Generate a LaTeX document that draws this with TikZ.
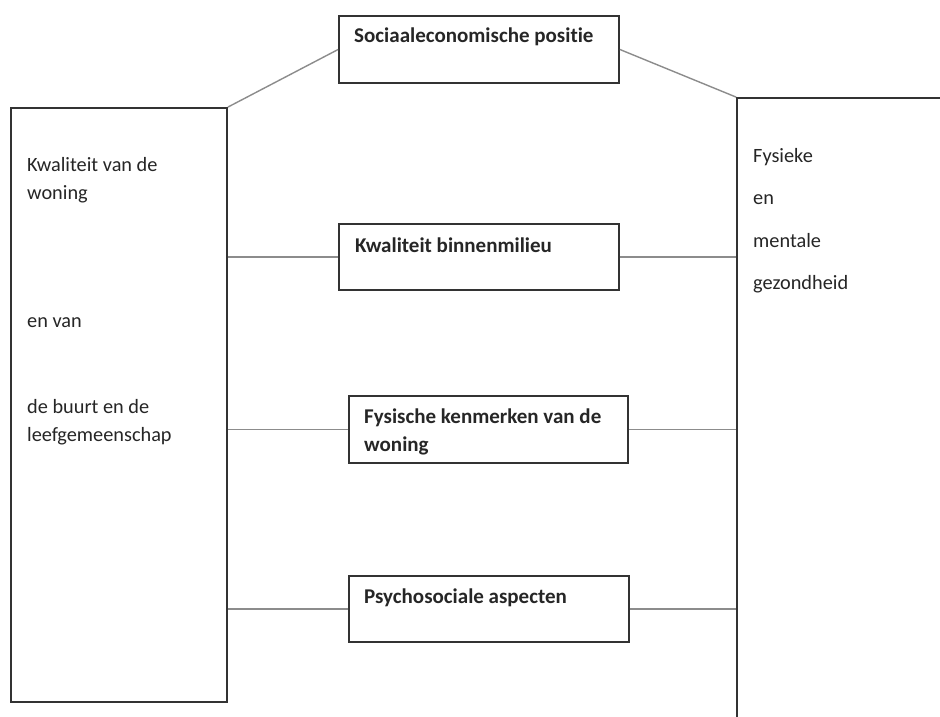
\documentclass[tikz,border=0pt]{standalone}
\usepackage{fontspec}
\setmainfont{Carlito}[Ligatures={NoCommon}]
\begin{document}
\begin{tikzpicture}[x=1pt,y=-1pt,
  box/.style={draw=black!80, line width=1.8pt, inner sep=0pt, fill=none},
  conn/.style={draw=black!45, line width=1.4pt},
  txt/.style={anchor=base west, inner sep=0pt, font=\fontsize{20.3}{24}\selectfont, text=black!85},
  btxt/.style={anchor=base west, inner sep=0pt, font=\fontsize{21}{24}\selectfont\bfseries, text=black!85}]
\useasboundingbox (0,0) rectangle (940,717);
\fill[white] (0,0) rectangle (940,717);
\clip (0,0) rectangle (940,717);
% boxes
\node[box, minimum width=216pt, minimum height=594pt] (left) at (119,405) {};
\node[box, minimum width=280pt, minimum height=67pt] (top) at (479,49.5) {};
\node[box, minimum width=280pt, minimum height=66pt] (binn) at (479,257) {};
\node[box, minimum width=279pt, minimum height=67pt] (fys) at (488.5,429.5) {};
\node[box, minimum width=280pt, minimum height=66pt] (psy) at (489,609) {};
\node[box, minimum width=300pt, minimum height=720pt] (right) at (887,458) {};
% texts
\node[btxt] (ttop) at (354,43) {Sociaaleconomische positie};
\node[btxt] (tbinn) at (355,252) {Kwaliteit binnenmilieu};
\node[btxt] (tfys1) at (364,423) {Fysische kenmerken van de};
\node[btxt] (tfys2) at (364,451) {woning};
\node[btxt] (tpsy) at (364,603) {Psychosociale aspecten};
\node[txt] (l1) at (27,171) {Kwaliteit van de};
\node[txt] (l2) at (27,199) {woning};
\node[txt] (l3) at (27,327) {en van};
\node[txt] (l4) at (27,413) {de buurt en de};
\node[txt] (l5) at (27,441) {leefgemeenschap};
\node[txt] (r1) at (753,162) {Fysieke};
\node[txt] (r2) at (753,204) {en};
\node[txt] (r3) at (753,247) {mentale};
\node[txt] (r4) at (753,289) {gezondheid};
% connectors
\draw[conn] (top.west) -- (left.north east);
\draw[conn] (top.east) -- (right.north west);
\draw[conn] (left.east |- binn.west) -- (binn.west);
\draw[conn] (binn.east) -- (right.west |- binn.east);
\draw[conn] (left.east |- fys.west) -- (fys.west);
\draw[conn] (fys.east) -- (right.west |- fys.east);
\draw[conn] (left.east |- psy.west) -- (psy.west);
\draw[conn] (psy.east) -- (right.west |- psy.east);
\end{tikzpicture}
\end{document}
